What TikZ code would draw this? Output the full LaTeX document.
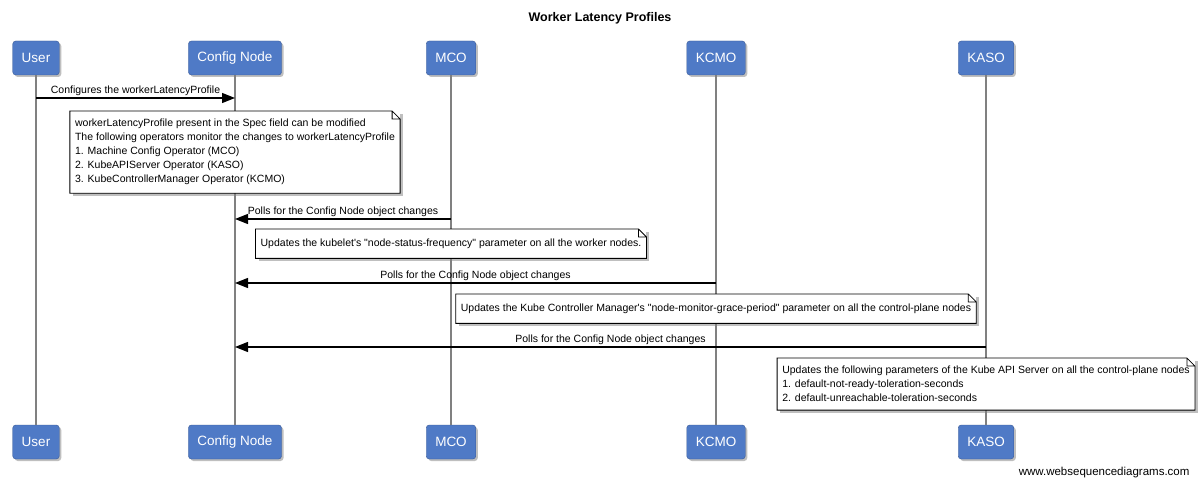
\documentclass[tikz,border=0pt]{standalone}
\usepackage{fontspec}
\setmainfont{Liberation Sans}[Ligatures=TeXOff]
\usetikzlibrary{arrows.meta,shadows,positioning}
\definecolor{actorblue}{RGB}{79,122,198}
\definecolor{actorline}{RGB}{58,90,150}
\definecolor{lifegray}{RGB}{128,128,128}

\begin{document}
\begin{tikzpicture}[x=1pt,y=-1pt,
    actor/.style={draw=actorline, fill=actorblue, rounded corners=3pt, text=white,
      font=\fontsize{13.5}{16}\selectfont, minimum height=34pt, inner xsep=9pt,
      drop shadow={shadow xshift=2pt, shadow yshift=-2pt, fill=black!50, opacity=0.5}},
    lifeline/.style={draw=lifegray, line width=1.6pt},
    msg/.style={draw=black, line width=1.4pt, -{Triangle[length=13pt,width=10pt]}},
    msglabel/.style={font=\fontsize{10.5}{12}\selectfont, above, inner sep=2pt},
    notebox/.style={fill=white, align=left, anchor=north, inner xsep=5pt, inner ysep=8pt,
      minimum height=29pt, font=\fontsize{10.5}{14}\selectfont,
      drop shadow={shadow xshift=3pt, shadow yshift=-3pt, fill=black!50, opacity=0.5}}]
  \useasboundingbox (0,0) rectangle (1200,486);
  \fill [white] (0,0) rectangle (1200,486);

  \node [font=\bfseries\fontsize{12.5}{15}\selectfont] (title) at (600,18) {Worker Latency Profiles};

  % participants, top and bottom, with their lifelines
  \foreach \name/\x/\label in {user/36/User, cfg/235/Config Node, mco/451/MCO, kcmo/716/KCMO, kaso/986/KASO} {
    \node [actor] (\name) at (\x,58) {\label};
    \node [actor] (\name-b) at (\x,442) {\label};
    \draw [lifeline] (\name) -- (\name-b);
  }

  % messages
  \foreach \from/\to/\y/\txt in {user/cfg/98/Configures the workerLatencyProfile,
                                 mco/cfg/219/Polls for the Config Node object changes,
                                 kcmo/cfg/283/Polls for the Config Node object changes,
                                 kaso/cfg/347/Polls for the Config Node object changes}
    \draw [msg] (\from |- 0,\y) -- node [msglabel] {\txt} (\to |- 0,\y);

  % notes
  \node [notebox] (note1) at (cfg |- 0,111) {workerLatencyProfile present in the Spec field can be modified\\
    The following operators monitor the changes to workerLatencyProfile\\
    1. Machine Config Operator (MCO)\\
    2. KubeAPIServer Operator (KASO)\\
    3. KubeControllerManager Operator (KCMO)};
  \node [notebox] (note2) at (mco |- 0,229) {Updates the kubelet's "node-status-frequency" parameter on all the worker nodes.};
  \node [notebox] (note3) at (kcmo |- 0,294) {Updates the Kube Controller Manager's "node-monitor-grace-period" parameter on all the control-plane nodes};
  \node [notebox] (note4) at (kaso |- 0,358) {Updates the following parameters of the Kube API Server on all the control-plane nodes\\
    1. default-not-ready-toleration-seconds\\
    2. default-unreachable-toleration-seconds};
  \foreach \n in {note1,note2,note3,note4}
    \draw [line width=0.8pt] (\n.south west) -- (\n.north west) -- ([xshift=-8pt]\n.north east)
      -- ([yshift=-8pt]\n.north east) -- (\n.south east) -- cycle
      ([xshift=-8pt]\n.north east) |- ([yshift=-8pt]\n.north east);

  \node [anchor=east, font=\fontsize{11.5}{14}\selectfont] (credit) at (1193,473) {www.websequencediagrams.com};
\end{tikzpicture}
\end{document}
